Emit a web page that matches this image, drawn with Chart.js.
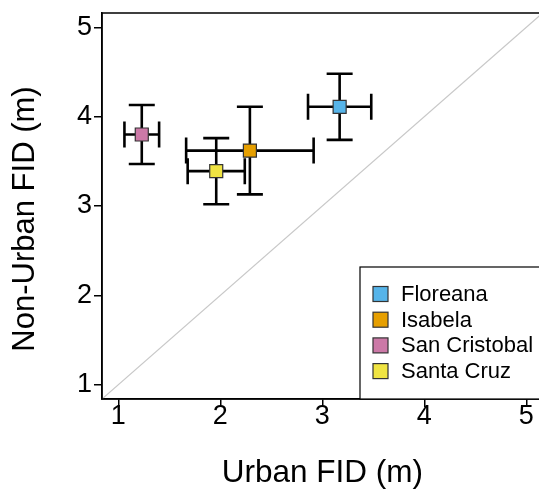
<!DOCTYPE html>
<html>
<head>
<meta charset="utf-8">
<script src="https://cdn.jsdelivr.net/npm/chart.js@4.4.1/dist/chart.umd.min.js"></script>
<style>
  html, body { margin: 0; padding: 0; background: #fff; overflow: hidden; }
  canvas { display: block; }
</style>
</head>
<body>
<canvas id="fidChart" width="553" height="495"></canvas>
<script>
// Island means and error bar half-widths
const islands = ["Floreana", "Isabela", "San Cristobal", "Santa Cruz"];
const urbanFid = [3.17, 2.29, 1.23, 1.96];
const nonUrbanFid = [4.11, 3.62, 3.80, 3.39];
const urbanErr = [0.31, 0.625, 0.17, 0.28];
const nonUrbanErr = [0.37, 0.49, 0.33, 0.37];
const islandColors = ["#56B4E9", "#E69F00", "#CC79A7", "#F0E442"];

const xTickVals = [1, 2, 3, 4, 5];
const yTickVals = [1, 2, 3, 4, 5];
const yTitle = "Non-Urban FID (m)";

const FONT = "'Liberation Sans', Arial, sans-serif";

// error bars + 1:1 line drawn under the squares
const errorBarPlugin = {
  id: "errorBars",
  beforeDatasetsDraw(chart) {
    const { ctx, chartArea, scales } = chart;
    const xs = scales.x, ys = scales.y;
    ctx.save();
    ctx.beginPath();
    ctx.rect(chartArea.left, chartArea.top, chartArea.right - chartArea.left, chartArea.bottom - chartArea.top);
    ctx.clip();

    // 1:1 reference line
    const lo = Math.min(xs.min, ys.min), hi = Math.max(xs.max, ys.max);
    ctx.strokeStyle = "#c8c8c8";
    ctx.lineWidth = 1.2;
    ctx.beginPath();
    ctx.moveTo(xs.getPixelForValue(lo), ys.getPixelForValue(lo));
    ctx.lineTo(xs.getPixelForValue(hi), ys.getPixelForValue(hi));
    ctx.stroke();

    ctx.strokeStyle = "#000";
    ctx.lineWidth = 2.6;
    const cap = 13;
    for (let i = 0; i < islands.length; i++) {
      const cx = xs.getPixelForValue(urbanFid[i]);
      const cy = ys.getPixelForValue(nonUrbanFid[i]);
      const x0 = xs.getPixelForValue(urbanFid[i] - urbanErr[i]);
      const x1 = xs.getPixelForValue(urbanFid[i] + urbanErr[i]);
      const y0 = ys.getPixelForValue(nonUrbanFid[i] - nonUrbanErr[i]);
      const y1 = ys.getPixelForValue(nonUrbanFid[i] + nonUrbanErr[i]);
      ctx.beginPath();
      ctx.moveTo(x0, cy); ctx.lineTo(x1, cy);
      ctx.moveTo(x0, cy - cap); ctx.lineTo(x0, cy + cap);
      ctx.moveTo(x1, cy - cap); ctx.lineTo(x1, cy + cap);
      ctx.moveTo(cx, y0); ctx.lineTo(cx, y1);
      ctx.moveTo(cx - cap, y0); ctx.lineTo(cx + cap, y0);
      ctx.moveTo(cx - cap, y1); ctx.lineTo(cx + cap, y1);
      ctx.stroke();
    }
    ctx.restore();
  },
  afterDraw(chart) {
    const { ctx, chartArea } = chart;
    ctx.save();
    // plot box (top / right edges)
    ctx.strokeStyle = "#000";
    ctx.lineWidth = 1.5;
    ctx.strokeRect(chartArea.left, chartArea.top, chartArea.right - chartArea.left, chartArea.bottom - chartArea.top);

    // y axis title, centred a bit low like the original
    ctx.fillStyle = "#000";
    ctx.font = "31px " + FONT;
    ctx.textAlign = "center";
    ctx.textBaseline = "alphabetic";
    ctx.save();
    ctx.translate(34, 219);
    ctx.rotate(-Math.PI / 2);
    ctx.fillText(yTitle, 0, 0);
    ctx.restore();

    // legend box in the lower right corner
    const bx = 360, by = 267;
    ctx.fillStyle = "#fff";
    ctx.fillRect(bx, by, chartArea.right - bx, chartArea.bottom - by);
    ctx.lineWidth = 1.2;
    ctx.strokeRect(bx, by, chartArea.right - bx + 5, chartArea.bottom - by);
    ctx.font = "22px " + FONT;
    ctx.textAlign = "left";
    ctx.textBaseline = "middle";
    islands.forEach((name, i) => {
      const rowY = 294 + i * 25.7;
      ctx.fillStyle = islandColors[i];
      ctx.fillRect(373, rowY - 7.5, 15, 15);
      ctx.strokeStyle = "#333";
      ctx.lineWidth = 1.2;
      ctx.strokeRect(373, rowY - 7.5, 15, 15);
      ctx.fillStyle = "#000";
      ctx.fillText(name, 401, rowY + 1);
    });
    ctx.restore();
  },
};

const ctx = document.getElementById("fidChart").getContext("2d");

const fidChart = new Chart(ctx, {
  type: "scatter",
  data: {
    datasets: islands.map((name, i) => ({
      label: name,
      data: [{ x: urbanFid[i], y: nonUrbanFid[i] }],
      pointStyle: "rect",
      pointRadius: 9.2,
      pointHoverRadius: 9.2,
      backgroundColor: islandColors[i],
      borderColor: "#333",
      borderWidth: 1.2,
    })),
  },
  options: {
    responsive: false,
    animation: false,
    layout: { padding: { top: 13, right: 0, left: 0, bottom: 0 } },
    plugins: {
      legend: { display: false },
      tooltip: { enabled: false },
    },
    scales: {
      x: {
        type: "linear",
        min: 0.84,
        max: 5.16,
        afterBuildTicks: (s) => { s.ticks = xTickVals.map((v) => ({ value: v })); },
        afterFit: (s) => { s.height = 96; s.paddingLeft = 0; s.paddingRight = 0; },
        border: { display: true, color: "#000", width: 1.5 },
        grid: { drawOnChartArea: false, drawTicks: true, tickLength: 8, color: "#000", lineWidth: 1.5 },
        ticks: { color: "#000", font: { family: FONT, size: 27 }, padding: -7, maxRotation: 0 },
        title: { display: true, text: "Urban FID (m)", color: "#000", font: { family: FONT, size: 31.5 }, padding: { top: 0, bottom: 3 } },
      },
      y: {
        type: "linear",
        min: 0.84,
        max: 5.16,
        afterBuildTicks: (s) => { s.ticks = yTickVals.map((v) => ({ value: v })); },
        afterFit: (s) => { s.width = 102; s.paddingTop = 0; s.paddingBottom = 0; },
        border: { display: true, color: "#000", width: 1.5 },
        grid: { drawOnChartArea: false, drawTicks: true, tickLength: 8, color: "#000", lineWidth: 1.5 },
        ticks: { color: "#000", font: { family: FONT, size: 27 }, padding: 2 },
      },
    },
  },
  plugins: [errorBarPlugin],
});
</script>
</body>
</html>
